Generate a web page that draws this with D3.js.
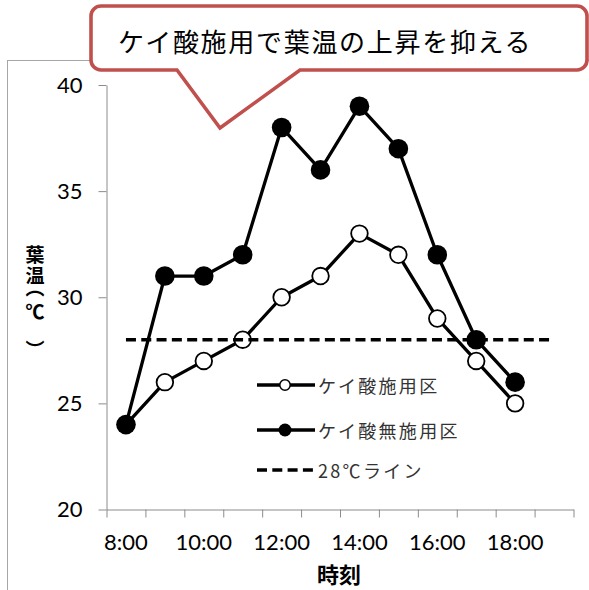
<!DOCTYPE html>
<html><head><meta charset="utf-8">
<script src="https://cdn.jsdelivr.net/npm/d3@7"></script>
<style>body{margin:0;background:#fff}svg{display:block}</style>
</head><body><svg id="c" width="589" height="590"></svg>
<script>
const categories = ["8:00","9:00","10:00","11:00","12:00","13:00","14:00","15:00","16:00","17:00","18:00","19:00"];
const tickLabels = ["8:00","10:00","12:00","14:00","16:00","18:00"];
const appliedValues = [24,26,27,28,30,31,33,32,29,27,25];
const notAppliedValues = [24,31,31,32,38,36,39,37,32,28,26];
const lineValues = [28,28,28,28,28,28,28,28,28,28,28,28];
const yTicks = [20,25,30,35,40];
const seriesNames = ["ケイ酸施用区","ケイ酸無施用区","28℃ライン"];
const calloutText = "ケイ酸施用で葉温の上昇を抑える";
const xTitle = "時刻";
const yTitle = "葉温（℃）";

const svg = d3.select("#c");
const axisColor = "#8c8c8c";
const cjk = "'Noto Sans CJK JP','Noto Sans',sans-serif";
const numFont = "Lato,'Open Sans',sans-serif";
const dash = "10,5.3";

// outer frame
svg.append("rect").attr("x",7.5).attr("y",60.5).attr("width",620).attr("height",600)
  .attr("fill","none").attr("stroke","#a6a6a6").attr("stroke-width",1);

const x = d3.scaleBand().domain(categories).range([106.5,573.5]).padding(0);
const xi = d3.scaleLinear().domain([0,categories.length]).range([106.5,573.5]);
const y = d3.scaleLinear().domain([20,40]).range([509.5,85]);

// y axis
const gy = svg.append("g").attr("transform","translate(106.5,0)")
  .call(d3.axisLeft(y).tickValues(yTicks).tickSize(8).tickPadding(16).tickSizeOuter(0));
gy.select(".domain").attr("stroke",axisColor);
gy.selectAll(".tick line").attr("stroke",axisColor);
gy.selectAll(".tick text").attr("font-family",numFont).attr("font-size",22).attr("fill","#000");

// x axis tick marks between categories
const gxt = svg.append("g").attr("transform","translate(0,509.5)")
  .call(d3.axisBottom(xi).tickValues(d3.range(0,categories.length+1)).tickSize(8).tickFormat("").tickSizeOuter(0));
gxt.select(".domain").attr("stroke",axisColor);
gxt.selectAll(".tick line").attr("stroke",axisColor);

// x axis labels
const gx = svg.append("g").attr("transform","translate(0,509.5)")
  .call(d3.axisBottom(x).tickValues(tickLabels).tickSize(0).tickPadding(25));
gx.select(".domain").remove();
gx.selectAll(".tick text").attr("font-family",numFont).attr("font-size",22).attr("fill","#000");

// x axis title
svg.append("text").attr("x",339).attr("y",573).attr("text-anchor","middle").attr("dominant-baseline","central")
  .attr("font-family",cjk).attr("font-weight","bold").attr("font-size",22).text(xTitle);

// vertical y title (single text, vertical writing mode)
const yCharStart = [245.5,266.5,278.75,302.5,340.5];
const yt = svg.append("text").attr("x",35).style("writing-mode","vertical-rl")
  .attr("font-family",cjk).attr("font-weight","bold").attr("font-size",19);
yt.selectAll("tspan").data(Array.from(yTitle)).join("tspan")
  .attr("x",35).attr("y",(d,i)=>yCharStart[i]).text(d=>d);

const cx = (d,i)=> x(categories[i]) + x.bandwidth()/2;
const line = d3.line().x((d,i)=>cx(d,i)).y(d=>y(d));

// applied series (open)
svg.append("path").datum(appliedValues).attr("d",line).attr("fill","none")
  .attr("stroke","#000").attr("stroke-width",3.3).attr("stroke-linejoin","round");
svg.append("g").selectAll("circle").data(appliedValues).join("circle")
  .attr("cx",(d,i)=>cx(d,i)).attr("cy",d=>y(d)).attr("r",8.3)
  .attr("fill","#fff").attr("stroke","#000").attr("stroke-width",1.8);

// not applied series (filled)
svg.append("path").datum(notAppliedValues).attr("d",line).attr("fill","none")
  .attr("stroke","#000").attr("stroke-width",3.3).attr("stroke-linejoin","round");
svg.append("g").selectAll("circle").data(notAppliedValues).join("circle")
  .attr("cx",(d,i)=>cx(d,i)).attr("cy",d=>y(d)).attr("r",9.8).attr("fill","#000");

// 28C line
svg.append("path").datum(lineValues).attr("d",line).attr("fill","none")
  .attr("stroke","#000").attr("stroke-width",3.5).attr("stroke-dasharray",dash);

// legend
const legY = [385,430,470];
const lg = svg.append("g");
lg.append("line").attr("x1",257).attr("x2",315).attr("y1",legY[0]).attr("y2",legY[0]).attr("stroke","#000").attr("stroke-width",3.5);
lg.append("circle").attr("cx",285).attr("cy",legY[0]).attr("r",5.2).attr("fill","#fff").attr("stroke","#000").attr("stroke-width",1.5);
lg.append("line").attr("x1",257).attr("x2",315).attr("y1",legY[1]).attr("y2",legY[1]).attr("stroke","#000").attr("stroke-width",3.5);
lg.append("circle").attr("cx",285).attr("cy",legY[1]).attr("r",6.5).attr("fill","#000");
lg.append("line").attr("x1",257).attr("x2",315).attr("y1",legY[2]).attr("y2",legY[2]).attr("stroke","#000").attr("stroke-width",3.5).attr("stroke-dasharray",dash);
lg.selectAll("text").data(seriesNames).join("text")
  .attr("x",318).attr("y",(d,i)=>legY[i]).attr("dominant-baseline","central")
  .attr("font-family",cjk).attr("font-size",18).attr("letter-spacing",2.3).attr("fill","#333").text(d=>d);

// callout
const L=91,R=587,T=6,B=70,r=10;
const p = d3.path();
p.moveTo(L+r,T); p.lineTo(R-r,T); p.arcTo(R,T,R,T+r,r); p.lineTo(R,B-r); p.arcTo(R,B,R-r,B,r);
p.lineTo(300,B); p.lineTo(220,128); p.lineTo(177,B);
p.lineTo(L+r,B); p.arcTo(L,B,L,B-r,r); p.lineTo(L,T+r); p.arcTo(L,T,L+r,T,r); p.closePath();
svg.append("path").attr("d",p.toString()).attr("fill","#fff").attr("stroke","#c0504d").attr("stroke-width",3.6).attr("stroke-linejoin","miter");
svg.append("text").attr("x",118).attr("y",40).attr("dominant-baseline","central")
  .attr("font-family",cjk).attr("font-size",26).attr("letter-spacing",1.7).attr("fill","#000").text(calloutText);
</script></body></html>
